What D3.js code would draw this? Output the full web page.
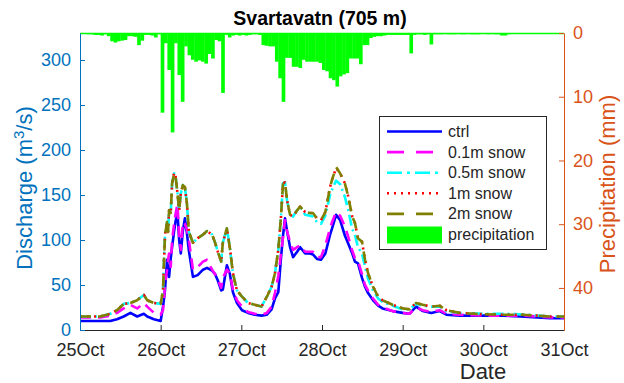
<!DOCTYPE html>
<html>
<head>
<meta charset="utf-8">
<script src="https://cdn.jsdelivr.net/npm/d3@7"></script>
<style>
  html, body { margin: 0; padding: 0; background: #fff; }
  svg { display: block; font-family: "Liberation Sans", Arial, Helvetica, sans-serif; }
</style>
</head>
<body>
<svg id="chart" width="624" height="383"></svg>
<script>
// Hours since 25 Oct 00:00 at which discharge is sampled
const hours = [0, 6, 9, 11, 13, 15, 17, 19, 20, 22,
  24, 24.7, 25, 25.3, 25.9, 26.2, 26.5, 27, 27.4, 28,
  28.4, 29, 29.5, 30, 30.6, 31.2, 31.8, 32.4, 33.6, 35,
  36.6, 37.8, 39.3, 40.2, 41, 42, 42.5, 43.7, 44.6, 45.5,
  46.7, 48.2, 50, 52, 54, 55.6, 57, 58, 59, 59.8,
  60.4, 61, 61.6, 62.5, 63.4, 64.6, 65.5, 67, 68.4, 69.3,
  70.5, 71.7, 73, 74.4, 75, 76.2, 77.4, 78.8, 79.7, 81,
  81.8, 82.7, 83.9, 84.8, 85.7, 87.2, 88.7, 90, 93, 96,
  98, 100, 102, 104.5, 107, 109, 113, 120, 126, 131,
  136, 140, 144];

// Discharge (m3/s) per scenario
const ctrl = [10, 10, 10, 12, 15, 19, 15, 18, 15, 12,
  10, 26, 35, 45, 78, 65, 59, 80, 92, 110,
  120, 131, 100, 85, 110, 124, 108, 88, 59, 61,
  67, 69, 66, 62, 55, 44, 45, 72, 62, 42,
  30, 22, 19, 17, 16, 17, 23, 35, 42, 80,
  105, 124, 110, 92, 81, 87, 92, 85, 85, 84,
  79, 78, 85, 106, 113, 128, 122, 105, 97, 85,
  76, 74, 58, 48, 41, 33, 27, 24, 21, 19,
  18, 26, 21, 19, 21, 17, 16, 16, 16, 15,
  14, 13, 13];

const snow01 = [14, 14, 16, 19, 24, 28, 24, 30, 26, 19,
  17, 22, 35, 50, 67, 78, 85, 70, 100, 118,
  128, 140, 105, 89, 120, 118, 112, 100, 67, 70,
  76, 78, 67, 62, 56, 47, 58, 67, 63, 45,
  33, 26, 20, 18, 17, 19, 26, 41, 60, 85,
  103, 122, 110, 98, 89, 92, 94, 87, 87, 87,
  81, 81, 94, 113, 120, 131, 127, 115, 105, 88,
  80, 77, 62, 50, 44, 35, 28, 25, 21, 19,
  18, 25, 22, 20, 22, 18, 17, 16, 16, 16,
  15, 14, 14];

const snow05 = [15, 15, 18, 22, 29, 30, 33, 39, 33, 30,
  29, 44, 78, 106, 120, 109, 133, 130, 163, 174,
  172, 152, 133, 152, 161, 159, 141, 109, 97, 102,
  106, 110, 106, 97, 87, 76, 97, 113, 91, 63,
  44, 37, 30, 28, 26, 37, 48, 63, 89, 126,
  163, 164, 144, 128, 126, 133, 137, 128, 127, 126,
  120, 118, 127, 150, 156, 166, 162, 148, 135, 112,
  106, 92, 85, 70, 57, 44, 35, 31, 27, 23,
  23, 29, 27, 26, 26, 21, 19, 18, 18, 17.5,
  16, 15, 15];

const snow1 = [15, 15, 18, 22, 29, 30, 33, 39, 33, 30,
  29, 44, 78, 106, 120, 109, 133, 130, 163, 175,
  172, 152, 133, 152, 161, 159, 141, 109, 97, 102,
  106, 110, 106, 97, 87, 76, 97, 113, 91, 63,
  44, 37, 30, 28, 26, 37, 48, 63, 89, 126,
  163, 164, 144, 128, 126, 133, 137, 131, 130, 130,
  124, 122, 131, 159, 167, 180, 174, 163, 150, 126,
  119, 102, 98, 78, 63, 48, 37, 33, 28, 24,
  23, 30, 28, 26, 27, 22, 19, 17.5, 17, 17,
  16, 15, 15];

const snow2 = [15, 15, 18, 22, 29, 30, 33, 39, 33, 30,
  29, 44, 78, 106, 120, 109, 133, 130, 163, 174,
  172, 152, 133, 152, 161, 159, 141, 109, 97, 102,
  106, 110, 106, 97, 87, 76, 97, 113, 91, 63,
  44, 37, 30, 28, 26, 37, 48, 63, 89, 126,
  163, 164, 144, 128, 126, 133, 137, 131, 130, 130,
  124, 122, 131, 159, 167, 181, 174, 163, 150, 126,
  119, 102, 98, 78, 63, 48, 37, 33, 28, 24,
  23, 30, 28, 26, 27, 22, 19, 17.5, 17, 17,
  16, 15, 15];

// Hourly precipitation (mm), one value per hour from 25 Oct 00:00
const precip = [
  0.1, 0.1, 0.2, 0.2, 0.3, 0.3, 0.4, 0.2, 0.5, 1.3, 1.5, 1.3, 1.2, 1.1, 0.5, 0.5, 0.6, 1.9, 1.2, 0.3, 0.3, 0.4, 0.7, 0.2,
  12.5, 1.6, 5.8, 15.6, 1.6, 6.6, 10.8, 2.1, 3.5, 4.2, 4.5, 4.3, 4.5, 4.8, 3.3, 4.0, 1.1, 1.3, 9.4, 0.3, 0.7, 0.4, 0.3, 0.4,
  0.3, 0.4, 0.3, 0.2, 0.2, 0.3, 1.9, 2.0, 2.1, 2.1, 4.5, 7.1, 10.8, 3.9, 3.9, 5.3, 5.3, 5.5, 4.2, 4.5, 4.5, 4.5, 4.5, 4.7,
  5.8, 6.0, 7.1, 7.4, 8.4, 6.8, 6.5, 6.3, 4.0, 4.0, 4.0, 4.9, 1.9, 1.9, 0.8, 0.6, 0.5, 0.5, 0.4, 0.3, 0.3, 0.3, 0.3, 0.3,
  0.3, 0.3, 3.2, 0.3, 0.2, 0.2, 0.3, 0.2, 1.8, 0.2, 0.2, 0.2, 0.1, 0.2, 0.2, 0.2, 0.1, 0.2, 0.2, 0.1, 0.2, 0.2, 0.2, 0.1,
  0.1, 0.2, 0.1, 0.2, 0.2, 0.4, 0.4, 0.2, 0.1, 0.1, 0.1, 0.1, 0.1, 0.1, 0.1, 0.1, 0.1, 0.1, 0.1, 0.1, 0.1, 0.1, 0.1, 0.1];

const dayLabels = ["25Oct", "26Oct", "27Oct", "28Oct", "29Oct", "30Oct", "31Oct"];
const dischargeTicks = [0, 50, 100, 150, 200, 250, 300];
const precipTicks = [0, 10, 20, 30, 40];

const seriesNames = ["ctrl", "0.1m snow", "0.5m snow", "1m snow", "2m snow"];
const seriesValues = [ctrl, snow01, snow05, snow1, snow2];
const seriesColors = ["#0000ff", "#ff00ff", "#00ffff", "#ff0000", "#808000"];
const seriesDash = [null, "11,7", "11,4,2,4", "2,5", "11,7"];
const legendDash = [null, "17,12", "15,5,3,5", "2,5", "17,12"];

const BLUE = "#0072bd", ORANGE = "#d95319", DARK = "#262626", GREEN = "#00ff00";

const svg = d3.select("#chart");
const pLeft = 80, pRight = 564, pTop = 33, pBottom = 330;

const x = d3.scaleLinear().domain([0, 144]).range([pLeft, pRight]);
const yL = d3.scaleLinear().domain([0, 330]).range([pBottom, pTop]);
const yR = d3.scaleLinear().domain([0, 46.6]).range([pTop, pBottom]);

// Precipitation bars hanging from the top edge
svg.append("g").selectAll("rect")
  .data(precip)
  .join("rect")
  .attr("x", (d, i) => x(i))
  .attr("y", pTop)
  .attr("width", x(1) - x(0) + 0.3)
  .attr("height", d => yR(d) - pTop)
  .attr("fill", GREEN);
svg.append("line")
  .attr("x1", pLeft).attr("x2", pRight).attr("y1", pTop + 0.5).attr("y2", pTop + 0.5)
  .attr("stroke", GREEN).attr("stroke-width", 1.5);

// Discharge lines
const line = d3.line()
  .x((d, i) => x(hours[i]))
  .y(d => yL(d));

seriesValues.forEach((vals, k) => {
  svg.append("path")
    .datum(vals)
    .attr("d", line)
    .attr("fill", "none")
    .attr("stroke", seriesColors[k])
    .attr("stroke-width", 2.6)
    .attr("stroke-dasharray", seriesDash[k])
    .attr("stroke-linejoin", "round");
});

// Bottom axis
const xAxis = d3.axisBottom(x)
  .tickValues(d3.range(0, 145, 24))
  .tickFormat((d, i) => dayLabels[i])
  .tickSizeInner(-5).tickSizeOuter(0).tickPadding(13);
const gx = svg.append("g").attr("transform", `translate(0,${pBottom})`).call(xAxis);
gx.select(".domain").attr("stroke", DARK);
gx.selectAll(".tick line").attr("stroke", DARK);
gx.selectAll(".tick text").attr("fill", DARK).style("font-size", "18px");

// Left axis (discharge)
const yAxisL = d3.axisLeft(yL).tickValues(dischargeTicks)
  .tickSizeInner(-5).tickSizeOuter(0).tickPadding(9);
const gl = svg.append("g").attr("transform", `translate(${pLeft},0)`).call(yAxisL);
gl.select(".domain").attr("stroke", BLUE);
gl.selectAll(".tick line").attr("stroke", BLUE);
gl.selectAll(".tick text").attr("fill", BLUE).style("font-size", "18px");

// Right axis (precipitation, reversed)
const yAxisR = d3.axisRight(yR).tickValues(precipTicks)
  .tickSizeInner(-5).tickSizeOuter(0).tickPadding(9);
const gr = svg.append("g").attr("transform", `translate(${pRight},0)`).call(yAxisR);
gr.select(".domain").attr("stroke", ORANGE);
gr.selectAll(".tick line").attr("stroke", ORANGE);
gr.selectAll(".tick text").attr("fill", ORANGE).style("font-size", "18px");

// Title and axis labels
svg.append("text")
  .attr("x", 320).attr("y", 25)
  .attr("text-anchor", "middle")
  .style("font-size", "19.5px").style("font-weight", "bold")
  .attr("fill", "#000")
  .text("Svartavatn (705 m)");

svg.append("text")
  .attr("x", 483).attr("y", 379)
  .attr("text-anchor", "middle")
  .style("font-size", "22px")
  .attr("fill", DARK)
  .text("Date");

const lab = svg.append("text")
  .attr("transform", `translate(32,188) rotate(-90)`)
  .attr("text-anchor", "middle")
  .style("font-size", "22px")
  .attr("fill", BLUE);
lab.append("tspan").text("Discharge (m");
lab.append("tspan").attr("dy", -8).style("font-size", "15px").text("3");
lab.append("tspan").attr("dy", 8).text("/s)");

svg.append("text")
  .attr("transform", `translate(615,184) rotate(-90)`)
  .attr("text-anchor", "middle")
  .style("font-size", "22px")
  .attr("fill", ORANGE)
  .text("Precipitation (mm)");

// Legend
const lg = svg.append("g");
const lgX = 379, lgY = 116, lgW = 167, lgH = 133;
lg.append("rect")
  .attr("x", lgX + 0.5).attr("y", lgY + 0.5)
  .attr("width", lgW).attr("height", lgH)
  .attr("fill", "#fff").attr("stroke", DARK).attr("stroke-width", 1);

const rowY = d3.range(6).map(i => lgY + 15.5 + i * 20.6);
seriesNames.forEach((name, k) => {
  lg.append("line")
    .attr("x1", lgX + 8).attr("x2", lgX + 63)
    .attr("y1", rowY[k]).attr("y2", rowY[k])
    .attr("stroke", seriesColors[k]).attr("stroke-width", 2.6)
    .attr("stroke-dasharray", legendDash[k]);
  lg.append("text")
    .attr("x", lgX + 69).attr("y", rowY[k] + 5.5)
    .style("font-size", "16px").attr("fill", DARK)
    .text(name);
});
lg.append("rect")
  .attr("x", lgX + 8).attr("y", rowY[5] - 8)
  .attr("width", 55).attr("height", 17)
  .attr("fill", GREEN);
lg.append("text")
  .attr("x", lgX + 69).attr("y", rowY[5] + 5.5)
  .style("font-size", "16px").attr("fill", DARK)
  .text("precipitation");
</script>
</body>
</html>
